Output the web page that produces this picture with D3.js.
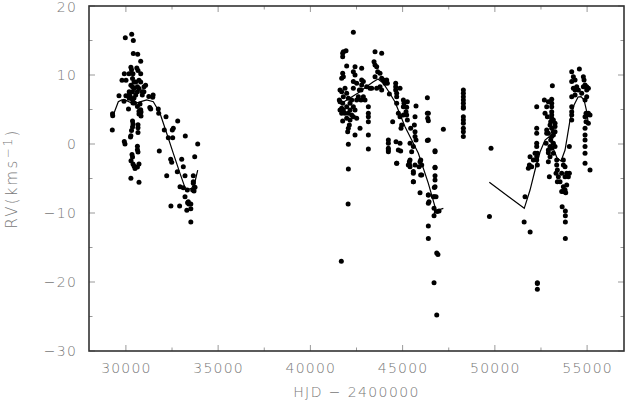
<!DOCTYPE html>
<html><head><meta charset="utf-8">
<script src="https://cdn.jsdelivr.net/npm/d3@7"></script>
<style>
body{margin:0;background:#fff;}
text{font-family:"DejaVu Sans",sans-serif;font-weight:200;fill:#777;}
</style></head>
<body><svg id="c" width="626" height="400"></svg>
<script>
// ---- data ----
const xTicks = [30000, 35000, 40000, 45000, 50000, 55000];
const yTicks = [20, 10, 0, -10, -20, -30];
const xLabel = "HJD − 2400000";

// observed radial velocities [HJD-2400000, RV]
const obs1 = [
 [29263,2.03],[29285,4.1],[29274,4.4],[29626,7.0],[29951,0.0],[29968,15.4],[29914,10.17],[30006,9.23],[29789,9.23],[30000,7.0],[29897,6.2],[29914,0.38],
 [30315,15.9],[30402,15.0],[30402,13.1],[30640,13.0],[30803,12.0],[30271,11.13],[30304,10.75],[30591,11.03],[30656,10.65],[30803,10.17],[30168,10.17],[30385,10.17],
 [30358,9.48],[30440,9.0],[30532,9.0],[30710,9.23],[30803,9.0],[30271,8.52],[30358,8.29],[30440,8.04],[30624,8.29],[30710,8.04],[30982,8.29],[31068,8.52],
 [30179,7.58],[30358,7.58],[30624,7.58],[30889,7.58],[30976,7.58],[30179,7.1],[30223,6.96],[30532,7.1],[30889,7.1],[30179,6.62],[30358,6.38],[30440,6.67],
 [30385,5.94],[30467,5.94],[30765,5.8],[30624,5.45],[30803,4.97],[30710,4.74],[30819,4.64],[30710,4.35],[30819,4.06],[30141,5.07],[31242,6.87],[31475,7.1],[31296,5.3],
 [30358,3.32],[30385,2.9],[30358,2.46],[30304,1.96],[30271,1.19],[30250,1.01],[30656,2.8],[30656,2.36],[30656,1.65],[30624,-0.33],[30624,-0.83],[30656,-1.16],
 [30331,-1.52],[30358,-1.88],[30277,-2.42],[30385,-2.9],[30440,-3.19],[30624,-3.32],[30710,-2.9],[30494,-3.55],[30271,-4.97],[30710,-5.55],
 [31453,6.77],[31345,5.07],[31757,5.07],[31779,4.45],[32174,3.96],[32808,3.33],[32082,2.03],[31811,-1.01],[32299,0.91],[32537,0.91],[32570,2.28],[32516,2.03],
 [32429,-2.22],[32483,-2.65],[32212,-4.59],[33025,-2.22],[33112,-3.29],[33220,1.16],[32786,-4.01],[33204,-4.59],[32933,-6.19],[33112,-6.33],[33654,-4.59],
 [33730,-1.84],[33893,0.0],[33621,-6.67],[33692,-6.81],[33746,-6.28],[33654,-5.7],[33654,-5.46],[33204,-7.64],[33383,-8.36],[33330,-6.67],
 [32440,-9.0],[32911,-9.0],[33302,-9.6],[33410,-8.7],[33519,-8.7],[33344,-8.5],[33519,-9.4],[33519,-11.3]
];
const obs2 = [
 [41751,13.14],[41787,13.38],[41932,13.53],[41751,12.66],[41968,11.31],[41751,10.24],[41787,9.76],[41697,9.52],[41606,7.83],[41697,7.59],[41787,6.86],
 [41606,6.14],[41751,5.9],[41697,5.17],[41787,4.93],[41697,4.45],[41751,3.34],[41968,3.72],[42058,4.45],[42112,2.76],[42058,2.27],[42022,1.79],[42058,-0.04],
 [42058,-3.62],[42329,16.18],[42420,11.21],[42329,10.48],[42420,10.0],[42329,9.04],[42329,8.07],[42239,6.38],[42329,5.41],[42420,4.93],[42329,3.96],[42510,3.72],
 [42420,1.31],[42691,2.27],[42781,10.97],[42781,9.28],[42871,9.04],[42781,8.55],[42745,7.83],[42871,6.86],[42962,6.38],[42745,6.38],[43142,5.41],[43142,4.45],
 [43142,3.96],[43142,3.24],[43142,1.31],[43142,-0.72],[43052,8.31],[43233,8.07],[43504,13.38],[43865,13.14],[43450,11.93],[43504,11.45],[43594,11.21],[43648,10.48],
 [43504,9.76],[43775,10.24],[43865,9.52],[43956,9.28],[44046,8.79],[43775,8.31],[43865,7.83],[44136,9.28],[44172,8.79],[43594,8.07],[43323,8.07],
 [44227,0.58],[44227,0.1],[44227,-0.62],[44227,-1.11],[44281,7.25],[44678,-2.8],[44624,8.79],[44624,8.31],[44624,7.83],[44678,7.35],[44678,6.86],[44859,8.07],
 [44678,5.9],[44461,3.24],[44642,0.34],[44859,0.1],[44895,-1.01],[44769,4.45],[44859,3.96],[44913,2.27],[44949,2.76],[45040,4.2],[45040,6.38],[45076,5.9],
 [45257,6.14],[45220,5.32],[45040,5.41],[45184,4.69],[45220,4.2],[45257,3.48],[45437,2.27],[45401,0.1],[45365,-2.56],[45365,-2.94],[45401,-3.28],[45582,-4.0],
 [45672,-3.04],[45726,5.51],[45672,3.96],[45636,2.76],[45672,1.79],[45672,1.07],[45582,-0.38],[45491,-1.11],[45726,0.58],[45582,-5.46],[45943,-2.56],[46034,-3.04],
 [45979,-4.49],[45943,-7.05],[46341,6.72],[46341,4.45],[46359,3.72],[46341,0.49],[46395,-7.39],[46756,-1.11],[46756,-3.43],[46756,-5.21],[46720,-6.32],
 [46666,-7.63],[46811,-7.63],[47208,2.13],
 [41877,8.07],[41968,7.35],[42058,6.62],[42149,5.9],[41968,5.41],[42149,4.93],[41877,4.45],[42239,4.2],[42149,3.48],[42510,6.38],[42600,6.86],[42655,7.83],
 [42510,8.79],[41606,4.93],[41570,6.38],
 [45982,-2.32],[46035,-4.49],[45581,-4.25],[45581,-5.46],[45890,-3.29],[45401,-2.32],[45310,-3.04],[44681,-2.8],[44226,-0.87],[44768,-0.87],[46394,4.45],
 [46394,3.38],[46394,0.58],[46757,-0.97],[46757,-3.38],[46757,-4.6],[46757,-6.19],[46719,-7.64],[46394,-7.39],[46430,-8.36],
 [42046,-8.7],[41677,-17.0],[46394,-8.6],[46703,-9.3],[46394,-11.9],[46394,-13.7],[46849,-15.8],[46914,-16.0],[46703,-20.1],[46849,-24.8],[46871,-9.8],
 [46974,-9.7],[46703,-10.4]
];
const obs3 = [
 [48292,7.83],[48292,7.35],[48292,6.86],[48292,6.38],[48292,5.9],[48292,5.41],[48292,5.17],[48292,3.96],[48292,3.48],[48292,3.0],[48292,2.27],[48292,1.79],[48292,1.07],
 [49792,-0.63],[49706,-10.5]
];
const obs4 = [
 [52268,5.41],[52268,2.27],[52268,1.55],[52268,0.1],[52268,-0.38],[52304,-1.35],[52268,-1.83],[52268,-2.32],[52304,-3.04],[51907,-1.83],[51871,-3.04],[51816,-3.52],
 [51997,-3.28],[51635,-7.63],[52087,-2.32],[52177,-1.35],
 [52683,6.38],[52900,6.14],[53081,6.48],[53117,8.46],[53081,5.9],[53081,5.41],[53081,4.69],[53081,4.2],[53081,3.72],[53027,3.24],[52991,2.76],[53081,2.27],
 [53171,1.79],[53171,1.31],[53081,1.07],[53027,0.58],[52991,-0.38],[52900,-0.87],[52900,-1.25],[52900,-2.56],[52954,-4.73],[52810,5.41],[52719,4.45],[52846,3.96],
 [53262,3.0],[53262,2.52],[53262,1.79],[53171,3.48],[52810,2.03],[52810,1.55],[52900,1.55],[52774,0.1],[53171,0.1],[53262,-0.38],[53081,-0.63],[53171,-1.35],[52991,-1.83],
 [53352,-2.32],[53352,-3.04],[53388,-3.77],[53316,-4.25],[53442,-4.73],[53533,-5.46],[53388,-5.46],[53623,-4.25],[53713,-2.32],[53804,-3.28],[53804,-4.73],
 [53894,-4.25],[53984,-4.73],[54038,-4.25],[53894,-5.94],[53713,-6.18],[53804,-6.66],[53623,-6.9],[53713,-6.9],[53840,-7.05],[54038,-0.38],[53713,-3.04],
 [54165,10.48],[54255,9.76],[54346,9.28],[54165,9.04],[54255,8.07],[54346,7.83],[54165,6.86],[54165,5.41],[54165,4.69],[54165,4.2],[54165,3.48],[54580,10.87],
 [54797,9.76],[54834,9.28],[54888,8.55],[54978,8.31],[55068,8.07],[54797,8.31],[54707,7.35],[54526,7.83],[54436,8.31],[54346,7.11],[54888,6.38],[54978,6.86],
 [54942,4.45],[54888,3.96],[54978,4.2],[55068,4.45],[55158,4.2],[54942,3.24],[55068,3.0],[54888,2.27],[54888,1.31],[54888,0.58],[54888,-0.38],[54888,-1.35],
 [54888,-2.8],[55158,-3.77],[54978,7.83],
 [51587,-11.3],[51913,-12.75],[52303,-20.1],[52303,-20.2],[52303,-21.06],[53647,-9.1],[53821,-9.7],[53821,-10.4],[53821,-11.3],[53821,-13.7]
];
// model curve segments [HJD-2400000, RV]
const fit1 = [[29317,4.2],[29588,6.13],[29773,6.38],[30044,6.28],[30402,5.8],[30765,6.1],[31128,6.38],[31486,6.13],[31849,4.45],[32212,1.55],[32570,-1.35],
 [32933,-4.25],[33204,-6.33],[33383,-6.57],[33567,-6.42],[33746,-5.46],[33893,-3.77]];
const fit2 = [[41715,5.94],[42149,6.67],[42583,7.39],[43016,8.26],[43396,8.99],[43667,9.42],[43938,8.84],[44263,7.54],[44589,6.09],[45131,2.51],[45852,-1.35],
 [46394,-5.7],[46757,-9.09],[46719,-10.04],[46936,-9.57],[47207,-9.32]];
const fit3 = [[49700,-5.55],[51593,-9.32],[51907,-6.67],[52178,-3.77],[52449,-1.16],[52720,0.58],[52937,1.06],[53154,-0.58],[53371,-2.03],[53588,-2.46],
 [53805,-0.87],[54076,3.48],[54293,5.65],[54510,6.81],[54672,6.86],[54835,6.38],[54998,4.49],[55068,2.75]];

// ---- chart ----
const svg = d3.select("#c");
const m = {l:89, r:2, t:6, b:49};
const W = 626, H = 400;
const x = d3.scaleLinear().domain([28000, 57000]).range([m.l, W - m.r]);
const y = d3.scaleLinear().domain([-30, 20]).range([H - m.b, m.t]);

const tickCol = "#999";
const g = svg.append("g");
// minor & major ticks (inward) on all sides
const xMinor = d3.range(30000, 57000, 2500);
const yMinor = d3.range(-30, 20.1, 5);
xMinor.forEach(v => {
  const L = (v % 5000 === 0) ? 6 : 3.5;
  g.append("line").attr("x1", x(v)).attr("x2", x(v)).attr("y1", y(-30)).attr("y2", y(-30) - L).attr("stroke", tickCol);
  g.append("line").attr("x1", x(v)).attr("x2", x(v)).attr("y1", y(20)).attr("y2", y(20) + L).attr("stroke", tickCol);
});
yMinor.forEach(v => {
  const L = (v % 10 === 0) ? 6 : 3.5;
  g.append("line").attr("y1", y(v)).attr("y2", y(v)).attr("x1", x(28000)).attr("x2", x(28000) + L).attr("stroke", tickCol);
  g.append("line").attr("y1", y(v)).attr("y2", y(v)).attr("x1", x(57000)).attr("x2", x(57000) - L).attr("stroke", tickCol);
});

// tick labels via axes
const xAxis = d3.axisBottom(x).tickValues(xTicks).tickSize(0).tickPadding(12).tickFormat(d3.format("d"));
const yAxis = d3.axisLeft(y).tickValues(yTicks).tickSize(0).tickPadding(10).tickFormat(d => d < 0 ? "−" + Math.abs(d) : String(d));
const gx = svg.append("g").attr("transform", `translate(0,${y(-30)})`).call(xAxis);
const gy = svg.append("g").attr("transform", `translate(${x(28000)},0)`).call(yAxis);
[gx, gy].forEach(a => {
  a.select(".domain").remove();
  a.selectAll("text").style("font-family", "DejaVu Sans").style("font-weight", 200)
   .style("font-size", "14px").style("fill", "#777").style("letter-spacing", "1.2px");
});
gy.selectAll("text").attr("dx", "-2");
gy.selectAll("text").filter(d => d === 20).attr("dy", "0.42em");

// frame
svg.append("rect").attr("x", x(28000)).attr("y", y(20)).attr("width", x(57000) - x(28000)).attr("height", y(-30) - y(20))
  .attr("fill", "none").attr("stroke", "#333").attr("stroke-width", 1.6);

// fit lines
const line = d3.line().x(d => x(d[0])).y(d => y(d[1]));
[fit1, fit2, fit3].forEach(f => svg.append("path").attr("d", line(f)).attr("fill", "none").attr("stroke", "#000").attr("stroke-width", 1.2));

// points
const pts = obs1.concat(obs2, obs3, obs4);
svg.append("g").selectAll("circle").data(pts).join("circle")
  .attr("cx", d => x(d[0])).attr("cy", d => y(d[1])).attr("r", 2.5).attr("fill", "#000");

// axis titles
svg.append("text").attr("x", (x(28000) + x(57000)) / 2).attr("y", 397).attr("text-anchor", "middle")
  .style("font-size", "14px").style("letter-spacing", "1.4px").text(xLabel);
const yt = svg.append("text").attr("transform", `translate(17,${(y(20) + y(-30)) / 2}) rotate(-90)`).attr("text-anchor", "middle")
  .style("font-size", "15px").style("letter-spacing", "2.2px");
yt.append("tspan").text("RV(kms");
yt.append("tspan").attr("dy", "-5").style("font-size", "12px").text("−1");
yt.append("tspan").attr("dy", "5").text(")");
</script></body></html>
